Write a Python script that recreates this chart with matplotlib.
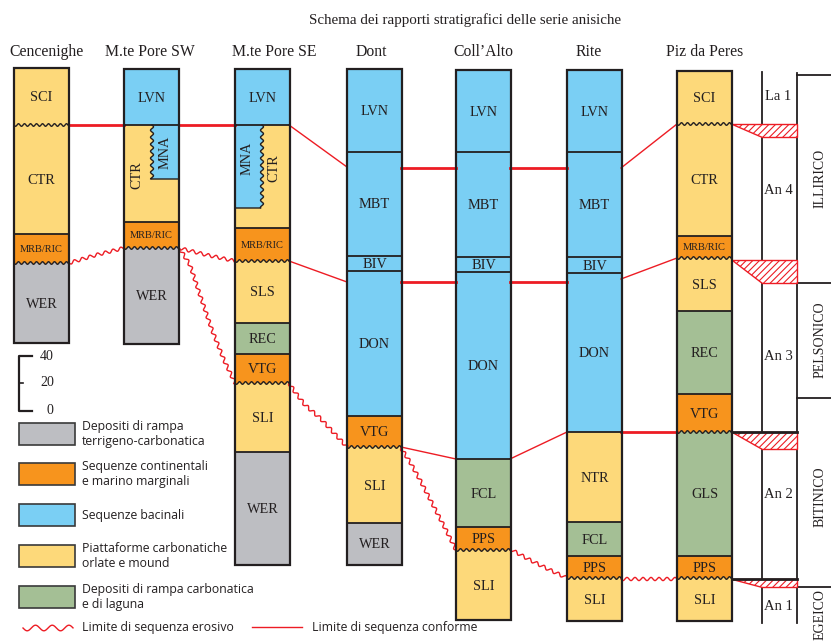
import numpy as np
import matplotlib.pyplot as plt
from matplotlib.patches import Polygon, Rectangle

plt.rcParams['hatch.linewidth'] = 0.8

# facies colours
FACIES = {
    'terr': '#BDBEC2',   # depositi di rampa terrigeno-carbonatica
    'cont': '#F7941D',   # sequenze continentali e marino marginali
    'bas': '#7ACFF4',    # sequenze bacinali
    'plat': '#FDD97A',   # piattaforme carbonatiche
    'ramp': '#A4BF95',   # depositi di rampa carbonatica e di laguna
}
DARK = '#231F20'
RED = '#ED1C24'
SERIF = 'Liberation Serif'
SANS = 'Open Sans'

title = 'Schema dei rapporti stratigrafici delle serie anisiche'
headers = ['Cencenighe', 'M.te Pore SW', 'M.te Pore SE', 'Dont', "Coll\u2019Alto", 'Rite', 'Piz da Peres']
header_x = [46, 150, 274, 371, 483, 589, 705]
col_left = [14, 124, 235, 347, 456, 567, 677]
col_w = 55

# columns: unit names, boundaries (depth, px scale of the section), facies, erosive boundaries
cen_units = ['SCI', 'CTR', 'MRB/RIC', 'WER']
cen_bounds = [68, 125, 234, 263, 343]
cen_facies = ['plat', 'plat', 'cont', 'terr']
cen_eros = [125, 263]

sw_units = ['LVN', '', 'MRB/RIC', 'WER']
sw_bounds = [69, 125, 222, 248, 344]
sw_facies = ['bas', 'plat', 'cont', 'terr']
sw_eros = [248]

se_units = ['LVN', '', 'MRB/RIC', 'SLS', 'REC', 'VTG', 'SLI', 'WER']
se_bounds = [69, 125, 228, 261, 323, 354, 383, 452, 565]
se_facies = ['bas', 'plat', 'cont', 'plat', 'ramp', 'cont', 'plat', 'terr']
se_eros = [261, 383]

dont_units = ['LVN', 'MBT', 'BIV', 'DON', 'VTG', 'SLI', 'WER']
dont_bounds = [69, 152, 256, 271, 416, 447, 523, 565]
dont_facies = ['bas', 'bas', 'bas', 'bas', 'cont', 'plat', 'terr']
dont_eros = [447]

coll_units = ['LVN', 'MBT', 'BIV', 'DON', 'FCL', 'PPS', 'SLI']
coll_bounds = [70, 152, 257, 272, 459, 527, 550, 620]
coll_facies = ['bas', 'bas', 'bas', 'bas', 'ramp', 'cont', 'plat']
coll_eros = [550]

rite_units = ['LVN', 'MBT', 'BIV', 'DON', 'NTR', 'FCL', 'PPS', 'SLI']
rite_bounds = [70, 152, 257, 273, 432, 522, 556, 578, 621]
rite_facies = ['bas', 'bas', 'bas', 'bas', 'plat', 'ramp', 'cont', 'plat']
rite_eros = [578]

piz_units = ['SCI', 'CTR', 'MRB/RIC', 'SLS', 'REC', 'VTG', 'GLS', 'PPS', 'SLI']
piz_bounds = [71, 124, 236, 258, 311, 394, 432, 556, 578, 621]
piz_facies = ['plat', 'plat', 'cont', 'plat', 'ramp', 'cont', 'ramp', 'cont', 'plat']
piz_eros = [124, 258, 432, 578]

columns = [
    (cen_units, cen_bounds, cen_facies, cen_eros),
    (sw_units, sw_bounds, sw_facies, sw_eros),
    (se_units, se_bounds, se_facies, se_eros),
    (dont_units, dont_bounds, dont_facies, dont_eros),
    (coll_units, coll_bounds, coll_facies, coll_eros),
    (rite_units, rite_bounds, rite_facies, rite_eros),
    (piz_units, piz_bounds, piz_facies, piz_eros),
]

# MNA lenses (x of wavy contact, top, base)
mna_sw = (152, 125, 179)
mna_se = (262, 125, 208)

# correlation lines
conform_lines = [
    [(69, 125), (124, 125)], [(179, 125), (235, 125)], [(289, 125), (347, 167)],
    [(401, 168), (456, 168)], [(510, 168), (567, 168)], [(621, 168), (677, 124)],
    [(289, 261), (347, 282)], [(401, 282), (456, 282)], [(510, 282), (567, 282)],
    [(621, 279), (677, 258)],
    [(401, 447), (456, 459)], [(510, 459), (567, 432)], [(621, 432), (677, 432)],
]
erosive_lines = [
    [(69, 263), (96, 255), (124, 248)],
    [(179, 248), (207, 255), (235, 261)],
    [(180, 249), (190, 265), (200, 295), (212, 330), (224, 360), (235, 383)],
    [(289, 383), (295, 392), (305, 405), (320, 418), (333, 432), (347, 447)],
    [(401, 448), (410, 462), (420, 480), (433, 505), (446, 530), (456, 550)],
    [(510, 549), (530, 560), (550, 570), (567, 578)],
    [(621, 579), (677, 579)],
]

# chronostratigraphy
substages = ['La 1', 'An 4', 'An 3', 'An 2', 'An 1']
substage_y = [97, 191, 356, 495, 606]
stages = ['ILLIRICO', 'PELSONICO', 'BITINICO', 'EGEICO']
stage_y = [178, 340, 497, 615]
stage_bounds = [283, 398, 587]
# hiatus wedges: top, base
hiatus = [(124, 137), (260, 283), (432, 449), (579, 587)]

legend_keys = ['terr', 'cont', 'bas', 'plat', 'ramp']
legend_text = ['Depositi di rampa\nterrigeno-carbonatica', 'Sequenze continentali\ne marino marginali',
               'Sequenze bacinali', 'Piattaforme carbonatiche\norlate e mound',
               'Depositi di rampa carbonatica\ne di laguna']
legend_y = [423, 463, 504, 545, 586]
scale_labels = ['40', '20', '0']
scale_y = [356, 383, 411]


def hwave(x0, x1, y, amp=1.3, period=6.0):
    xs = np.linspace(x0, x1, 300)
    return xs, y + amp * np.sin(2 * np.pi * (xs - x0) / period)


def vwave(x, y0, y1, amp=1.5, period=7.0):
    ys = np.linspace(y0, y1, 300)
    return x + amp * np.sin(2 * np.pi * (ys - y0) / period), ys


def path_wave(pts, amp=1.6, period=8.0):
    pts = np.asarray(pts, float)
    seg = np.diff(pts, axis=0)
    L = np.concatenate([[0], np.cumsum(np.hypot(seg[:, 0], seg[:, 1]))])
    s = np.linspace(0, L[-1], 600)
    x = np.interp(s, L, pts[:, 0])
    y = np.interp(s, L, pts[:, 1])
    dx, dy = np.gradient(x), np.gradient(y)
    n = np.hypot(dx, dy)
    off = amp * np.sin(2 * np.pi * s / period)
    return x - dy / n * off, y + dx / n * off


fig = plt.figure(figsize=(8.31, 6.42), dpi=100)
ax = fig.add_axes([0, 0, 1, 1])
ax.set_xlim(0, 831)
ax.set_ylim(642, 0)
ax.axis('off')

ax.text(465, 20, title, family=SERIF, fontsize=10.8, ha='center', va='center', color=DARK)

for name, hx in zip(headers, header_x):
    ax.text(hx, 52, name, family=SERIF, fontsize=11.3, ha='center', va='center', color=DARK)

for (units, bounds, facies, eros), x0 in zip(columns, col_left):
    x1 = x0 + col_w

    def edge(y):
        if y in eros:
            return hwave(x0, x1, y)
        return np.array([x0, x1]), np.array([y, y])

    for i, (u, f) in enumerate(zip(units, facies)):
        tx, ty = edge(bounds[i])
        bx, by = edge(bounds[i + 1])
        ax.fill(np.concatenate([tx, bx[::-1]]), np.concatenate([ty, by[::-1]]),
                color=FACIES[f], lw=0, zorder=2)
        if u:
            fs = 7.5 if '/' in u else 10.3
            ax.text(x0 + col_w / 2, (bounds[i] + bounds[i + 1]) / 2 + 1, u, family=SERIF,
                    fontsize=fs, ha='center', va='center', color=DARK, zorder=6)
    for b in bounds[1:-1]:
        bx, by = edge(b)
        ax.plot(bx, by, color=DARK, lw=1.0 if b in eros else 1.3, zorder=4)
    ax.add_patch(Rectangle((x0, bounds[0]), col_w, bounds[-1] - bounds[0], fill=False,
                           ec=DARK, lw=1.6, zorder=5))

# MNA lenses
wx, wy = vwave(mna_sw[0], mna_sw[1], mna_sw[2])
ax.fill(np.concatenate([wx, [179, 179]]), np.concatenate([wy, [mna_sw[2], mna_sw[1]]]),
        color=FACIES['bas'], lw=0, zorder=3)
ax.plot(np.concatenate([wx, [179]]), np.concatenate([wy, [mna_sw[2]]]), color=DARK, lw=1.0, zorder=4)
ax.text(165, 152, 'MNA', family=SERIF, fontsize=10.3, rotation=90, ha='center', va='center', color=DARK, zorder=6)
ax.text(137, 175, 'CTR', family=SERIF, fontsize=10.3, rotation=90, ha='center', va='center', color=DARK, zorder=6)

wx, wy = vwave(mna_se[0], mna_se[1], mna_se[2])
ax.fill(np.concatenate([[235], wx, [235]]), np.concatenate([[mna_se[1]], wy, [mna_se[2]]]),
        color=FACIES['bas'], lw=0, zorder=3)
ax.plot(np.concatenate([wx, [235]]), np.concatenate([wy, [mna_se[2]]]), color=DARK, lw=1.0, zorder=4)
ax.text(247, 158, 'MNA', family=SERIF, fontsize=10.3, rotation=90, ha='center', va='center', color=DARK, zorder=6)
ax.text(274, 168, 'CTR', family=SERIF, fontsize=10.3, rotation=90, ha='center', va='center', color=DARK, zorder=6)

# correlation lines
for ln in conform_lines:
    (xa, ya), (xb, yb) = ln
    ax.plot([xa, xb], [ya, yb], color=RED, lw=2.0 if ya == yb else 1.0, zorder=3)
for ln in erosive_lines:
    ex, ey = path_wave(ln)
    ax.plot(ex, ey, color=RED, lw=1.0, zorder=3)

# chronostratigraphic scale
ax.plot([762, 762], [72, 623], color=DARK, lw=1.3)
ax.plot([797, 797], [73, 623], color=DARK, lw=1.3)
ax.plot([797, 831], [75, 75], color=DARK, lw=1.3)
for b in stage_bounds:
    ax.plot([797, 831], [b, b], color=DARK, lw=1.3)
for s, y in zip(substages, substage_y):
    ax.text(778, y, s, family=SERIF, fontsize=10.5, ha='center', va='center', color=DARK)
for s, y in zip(stages, stage_y):
    ax.text(820, y, s, family=SERIF, fontsize=10, rotation=90, ha='center', va='center', color=DARK)
for k, (t, b) in enumerate(hiatus):
    ax.add_patch(Polygon([(732, t), (797, t), (797, b), (762, b)], closed=True, facecolor='white',
                         edgecolor=RED, hatch='/////', lw=1.0, zorder=3))
    if k >= 2:
        ax.plot([732, 797], [t, t], color=DARK, lw=2.0, zorder=4)

# thickness scale
ax.plot([32, 19, 19, 32], [scale_y[0], scale_y[0], scale_y[2], scale_y[2]], color=DARK, lw=1.6)
ax.plot([19, 23], [scale_y[1], scale_y[1]], color=DARK, lw=1.2)
for lab, y, xl in zip(scale_labels, scale_y, [47, 47, 50]):
    ax.text(xl, y, lab, family=SERIF, fontsize=10, ha='center', va='center', color=DARK)

# legend
for key, txt, y in zip(legend_keys, legend_text, legend_y):
    ax.add_patch(Rectangle((19, y), 56, 22, facecolor=FACIES[key], edgecolor='#3A3A3A', lw=1.2))
    ax.text(82, y + 11, txt, family=SANS, fontsize=8.8, ha='left', va='center', color=DARK,
            linespacing=1.25)
lx = np.linspace(23, 73, 200)
ax.plot(lx, 628 + 2.8 * np.sin(2 * np.pi * (lx - 23) / 16.7), color=RED, lw=1.0)
ax.text(82, 628, 'Limite di sequenza erosivo', family=SANS, fontsize=8.8, ha='left', va='center', color=DARK)
ax.plot([252, 302], [627, 627], color=RED, lw=1.0)
ax.text(312, 627, 'Limite di sequenza conforme', family=SANS, fontsize=8.8, ha='left', va='center', color=DARK)

fig.savefig('out.png', dpi=100)
